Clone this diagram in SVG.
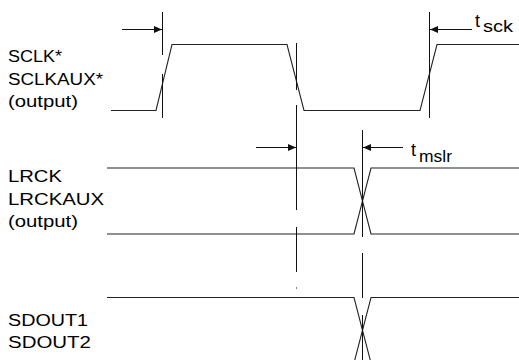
<svg xmlns="http://www.w3.org/2000/svg" width="519" height="360" viewBox="0 0 519 360">
<style>
.lbl{font-family:"Liberation Sans",Arial,Helvetica,sans-serif;font-size:16px;fill:#000}
.t{font-size:18px}
.wave{fill:none;stroke:#222;stroke-width:1.1}
.grid{fill:none;stroke:#111;stroke-width:1}
.dim{fill:none;stroke:#111;stroke-width:1}
</style>
<defs>
<marker id="ah" viewBox="0 0 8 7" refX="8" refY="3.5" markerWidth="8" markerHeight="7" markerUnits="userSpaceOnUse" orient="auto">
<path d="M0,0 L8,3.5 L0,7 Z" fill="#111"/>
</marker>
</defs>
<rect width="519" height="360" fill="#fff"/>
<g id="sclk">
<text class="lbl" x="8" y="62" textLength="54" lengthAdjust="spacingAndGlyphs">SCLK*</text>
<text class="lbl" x="8" y="85" textLength="95" lengthAdjust="spacingAndGlyphs">SCLKAUX*</text>
<text class="lbl" x="8" y="107" textLength="70" lengthAdjust="spacingAndGlyphs">(output)</text>
<polyline class="wave" points="111,110.5 156,110.5 172,44.5 287,44.5 304,110.5 420,110.5 437,44.5 519,44.5"/>
</g>
<g id="lrck">
<text class="lbl" x="8" y="182" textLength="54" lengthAdjust="spacingAndGlyphs">LRCK</text>
<text class="lbl" x="8" y="205" textLength="96" lengthAdjust="spacingAndGlyphs">LRCKAUX</text>
<text class="lbl" x="8" y="227" textLength="70" lengthAdjust="spacingAndGlyphs">(output)</text>
<polyline class="wave" points="107,168 354,168 371,234 519,234" stroke="#555"/>
<polyline class="wave" points="107,234 354,234 371,168 519,168" stroke="#555"/>
</g>
<g id="sdout">
<text class="lbl" x="8" y="326" textLength="80" lengthAdjust="spacingAndGlyphs">SDOUT1</text>
<text class="lbl" x="8" y="348" textLength="83" lengthAdjust="spacingAndGlyphs">SDOUT2</text>
<polyline class="wave" points="107,297.5 354,297.5 371,363"/>
<polyline class="wave" points="354,363 371,297.5 519,297.5"/>
</g>
<g id="connectors">
<line class="grid" x1="162.5" y1="12" x2="162.5" y2="55"/>
<line class="grid" x1="162.5" y1="74" x2="162.5" y2="118"/>
<line class="grid" x1="296.5" y1="43" x2="296.5" y2="90"/>
<line class="grid" x1="296.5" y1="105" x2="296.5" y2="210"/>
<line class="grid" x1="296.5" y1="227" x2="296.5" y2="272"/>
<line class="grid" x1="296.5" y1="287.5" x2="296.5" y2="288.5"/>
<line class="grid" x1="429.5" y1="12" x2="429.5" y2="118"/>
<line class="grid" x1="362.5" y1="130" x2="362.5" y2="237"/>
<line class="grid" x1="362.5" y1="253" x2="362.5" y2="298"/>
<line class="grid" x1="362.5" y1="315" x2="362.5" y2="360"/>
<line class="dim" x1="122" y1="29.5" x2="162" y2="29.5" marker-end="url(#ah)"/>
<line class="dim" x1="472" y1="29.5" x2="430" y2="29.5" marker-end="url(#ah)"/>
<line class="dim" x1="256" y1="147.5" x2="296" y2="147.5" marker-end="url(#ah)"/>
<line class="dim" x1="403" y1="147.5" x2="363" y2="147.5" marker-end="url(#ah)"/>
</g>
<g id="timing-labels">
<text class="lbl t" x="475" y="27">t</text>
<text class="lbl" x="483" y="32" textLength="30" lengthAdjust="spacingAndGlyphs">sck</text>
<text class="lbl t" x="411" y="156">t</text>
<text class="lbl" x="419" y="162" textLength="33" lengthAdjust="spacingAndGlyphs">mslr</text>
</g>
</svg>
